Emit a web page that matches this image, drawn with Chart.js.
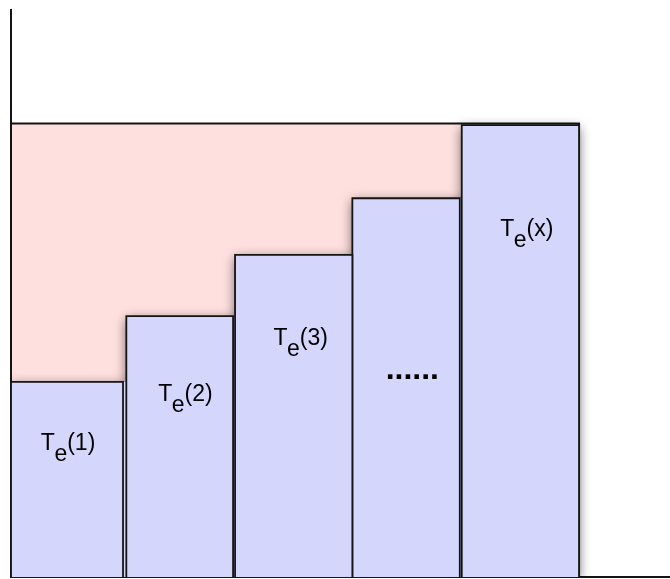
<!DOCTYPE html>
<html>
<head>
<meta charset="utf-8">
<script src="https://cdn.jsdelivr.net/npm/chart.js@4.4.1/dist/chart.umd.min.js"></script>
<style>
  html, body { margin: 0; padding: 0; background: #fff; }
</style>
</head>
<body>
<canvas id="chart" width="670" height="579"></canvas>
<script>
// step chart: each bar is one T_e(n), pink area is the total
const barNames  = ['1', '2', '3', '', 'x'];   // '' = the "......" bar
const barLeft   = [0, 17.5, 34.0, 51.8, 68.4];
const barRight  = [17.0, 33.7, 51.8, 68.1, 86.2];
const barHeight = [34.4, 46.0, 56.8, 66.8, 79.7];
const totalHeight = 80.0;
const labelX = [8.7, 26.5, 44.0, 60.9, 78.3];
const labelY = [22.4, 31.0, 40.9, 34.9, 60.2];

const BAR_FILL = 'rgb(213,214,252)';
const PINK = 'rgb(254,224,222)';
const INK = '#141414';

function rect(l, r, h) {
  return [{x: l, y: 0}, {x: l, y: h}, {x: r, y: h}, {x: r, y: 0}];
}

// outline of all bars together, only used to cast one shadow for the group
function stepOutline() {
  const pts = [{x: barLeft[0], y: 0}];
  barLeft.forEach((l, i) => {
    pts.push({x: l, y: barHeight[i]});
    if (i < barLeft.length - 1) pts.push({x: barLeft[i + 1], y: barHeight[i]});
    else pts.push({x: barRight[i], y: barHeight[i]});
  });
  pts.push({x: barRight[barRight.length - 1], y: 0});
  return pts;
}

const base = { type: 'line', fill: 'shape', pointRadius: 0, tension: 0, showLine: true };

const datasets = barNames.map((n, i) => ({
  ...base,
  label: n || 'dots',
  data: rect(barLeft[i], barRight[i], barHeight[i]),
  backgroundColor: BAR_FILL,
  borderColor: INK,
  borderWidth: 1.8
}));
datasets.push({ ...base, label: 'shadow', data: stepOutline(), backgroundColor: BAR_FILL, borderColor: 'rgba(0,0,0,0)', borderWidth: 1 });
datasets.push({
  ...base, label: 'total',
  data: rect(0, barRight[barRight.length - 1], totalHeight),
  backgroundColor: PINK, borderColor: INK, borderWidth: 2
});
const shadowIdx = datasets.length - 2;

// datasets are painted last index first, so the shadow is on
// from the end of 'total' until the end of 'shadow'
const groupShadow = {
  id: 'groupShadow',
  afterDatasetDraw(chart, args) {
    const ctx = chart.ctx;
    if (args.index === shadowIdx + 1) {
      ctx.shadowColor = 'rgba(0,0,0,0.6)';
      ctx.shadowBlur = 12;
      ctx.shadowOffsetX = 0;
      ctx.shadowOffsetY = 3;
    } else if (args.index === shadowIdx) {
      ctx.shadowColor = 'rgba(0,0,0,0)';
      ctx.shadowBlur = 0;
      ctx.shadowOffsetY = 0;
    }
  }
};

const barText = {
  id: 'barText',
  afterDatasetsDraw(chart) {
    const ctx = chart.ctx;
    const xs = chart.scales.x, ys = chart.scales.y;
    ctx.save();
    ctx.fillStyle = '#000';
    ctx.textBaseline = 'alphabetic';
    barNames.forEach((n, i) => {
      const px = xs.getPixelForValue(labelX[i]);
      const py = ys.getPixelForValue(labelY[i]);
      if (!n) {
        ctx.font = 'bold 32px "Liberation Sans", Arial, sans-serif';
        ctx.textAlign = 'center';
        ctx.fillText('......', px, py);
        return;
      }
      const f = '23px "Liberation Sans", Arial, sans-serif';
      ctx.textAlign = 'left';
      ctx.font = f;
      const wT = ctx.measureText('T').width;
      const wE = ctx.measureText('e').width;
      const wR = ctx.measureText('(' + n + ')').width;
      const x0 = px - (wT + wE + wR) / 2;
      ctx.fillText('T', x0, py);
      ctx.fillText('e', x0 + wT - 0.5, py + 11);
      ctx.fillText('(' + n + ')', x0 + wT + wE - 0.5, py);
    });
    ctx.restore();
  }
};

const axis = {
  type: 'linear', min: 0, max: 100, z: 1,
  ticks: { display: false },
  grid: { display: false, drawTicks: false },
  border: { display: true, color: INK, width: 2 }
};

new Chart(document.getElementById('chart'), {
  type: 'scatter',
  data: { datasets },
  options: {
    responsive: false,
    animation: false,
    devicePixelRatio: 1,
    layout: { padding: { left: 11, top: 10, right: 0, bottom: 2 } },
    plugins: { legend: { display: false }, tooltip: { enabled: false } },
    scales: { x: { ...axis }, y: { ...axis } }
  },
  plugins: [groupShadow, barText]
});
</script>
</body>
</html>
